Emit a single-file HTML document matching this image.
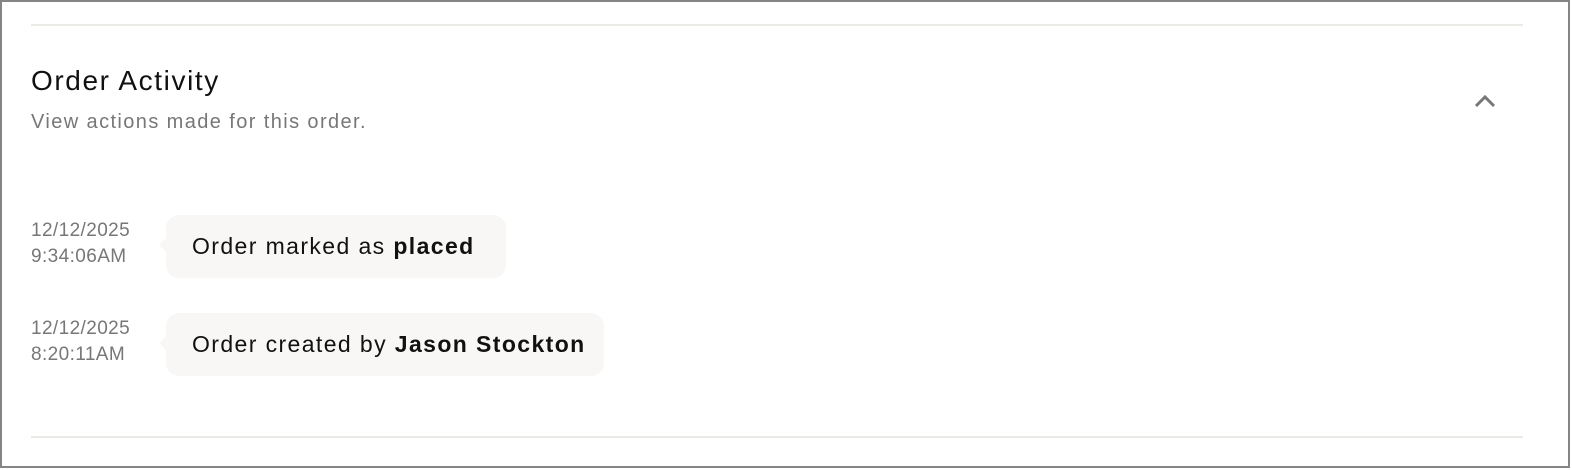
<!DOCTYPE html>
<html><head><style>
body{margin:0;width:1572px;height:470px;background:#fff;font-family:"Liberation Sans",sans-serif;position:relative;overflow:hidden}
.frame{position:absolute;left:0;top:0;width:1566px;height:464px;border:2px solid #858585}
.line{position:absolute;left:31px;width:1492px;height:2px;background:#eceae7}
.t{position:absolute;white-space:nowrap}
.ts{position:absolute;left:31px;font-size:19px;line-height:26px;color:#777;letter-spacing:0.4px}
.b{position:absolute;left:166px;height:63px;background:#f8f7f5;border-radius:13px;font-size:23px;color:#111;line-height:63px;padding-left:26px;box-sizing:border-box;letter-spacing:1.4px}
.b:before{content:"";position:absolute;left:-7px;top:22px;border-right:8px solid #f8f7f5;border-top:8px solid transparent;border-bottom:8px solid transparent}
</style></head><body>
<div class="frame"></div>
<div class="line" style="top:24px"></div>
<div class="line" style="top:436px"></div>
<div class="t" style="left:31px;top:65px;font-size:28px;color:#111;letter-spacing:1.6px">Order Activity</div>
<div class="t" style="left:31px;top:111px;font-size:20px;color:#777;letter-spacing:1.4px">View actions made for this order.</div>
<svg style="position:absolute;left:1473px;top:94px" width="24" height="16"><polyline points="3,12 12,3 21,12" fill="none" stroke="#777" stroke-width="3"/></svg>
<div class="ts" style="top:218px">12/12/2025<br>9:34:06AM</div>
<div class="b" style="top:215px;width:340px">Order marked as <b>placed</b></div>
<div class="ts" style="top:316px">12/12/2025<br>8:20:11AM</div>
<div class="b" style="top:313px;width:438px">Order created by <b>Jason Stockton</b></div>
</body></html>
